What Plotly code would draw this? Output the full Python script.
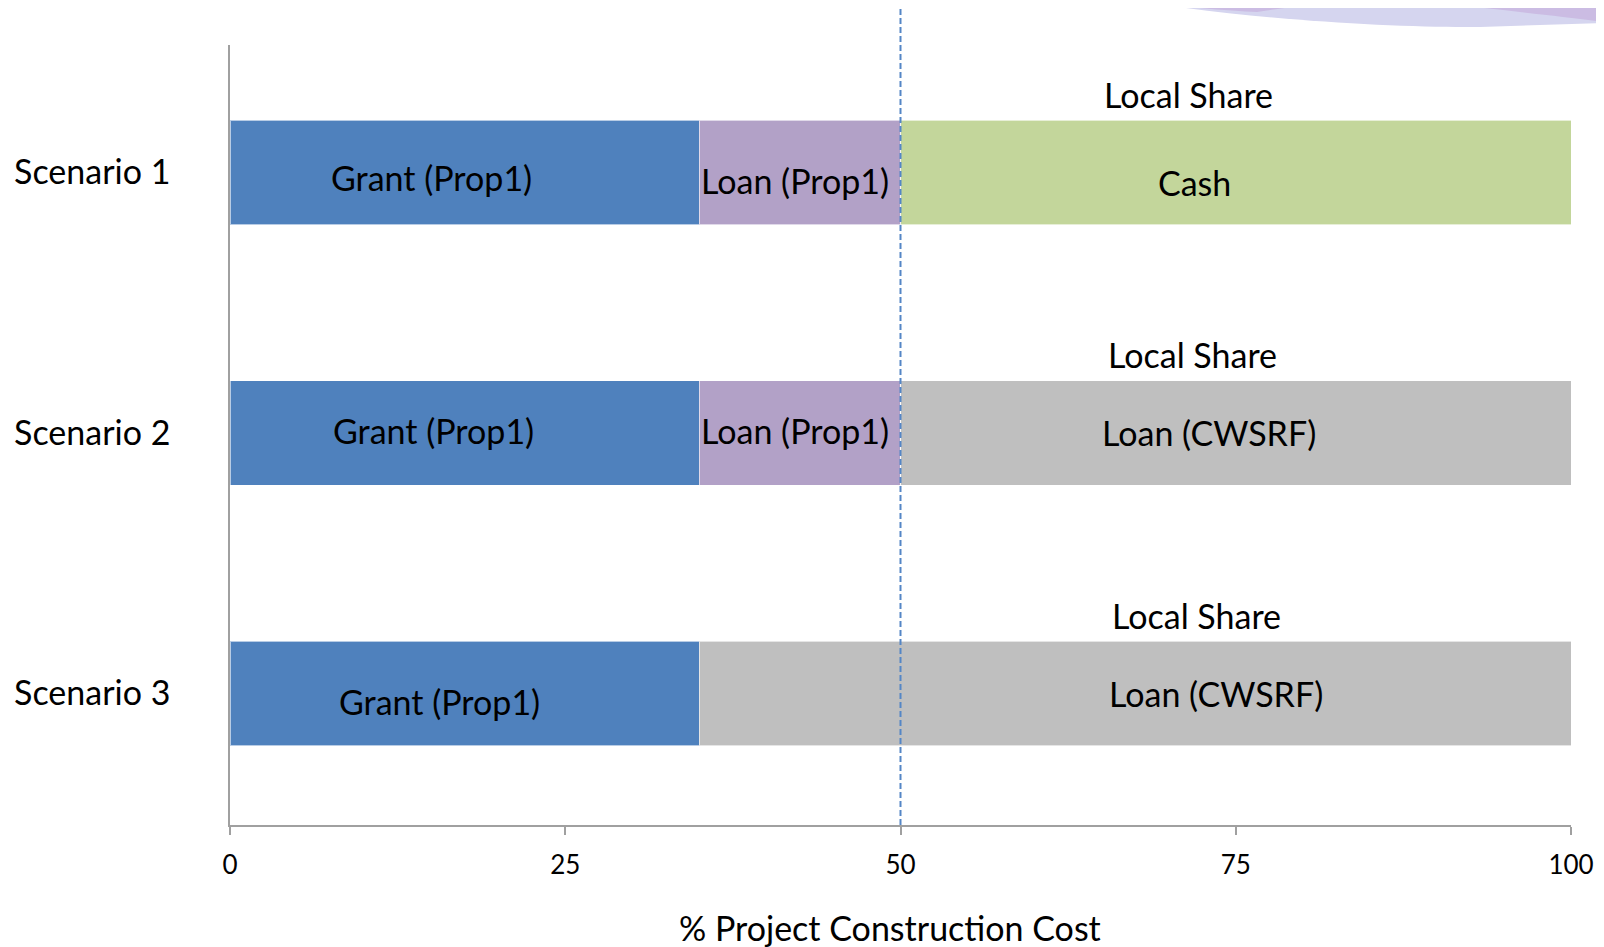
import plotly.graph_objects as go

# ---- data ----
scenarios = ["Scenario 1", "Scenario 2", "Scenario 3"]
grant_prop1 = [35, 35, 35]
loan_prop1 = [15, 15, 0]
cash = [50, 0, 0]
loan_cwsrf = [0, 50, 65]
x_ticks = [0, 25, 50, 75, 100]
threshold = 50

# page offset of the figure (default body margin)
OFF = 8
W, H = 1596, 939
L, T = 230 - OFF, 45 - OFF
R = W - (1571 - OFF)
B = H - (825 - OFF)
PW, PH = W - L - R, H - T - B

def px(x, y):
    """page pixel -> paper coords"""
    x -= OFF
    y -= OFF
    return (x - L) / PW, (H - B - y) / PH

FONT = "Lato"
BLACK = "#000000"
FS = 34

fig = go.Figure()
series = [
    ("Grant (Prop1)", grant_prop1, "#4F81BD"),
    ("Loan (Prop1)", loan_prop1, "#B2A1C7"),
    ("Cash", cash, "#C3D69B"),
    ("Loan (CWSRF)", loan_cwsrf, "#BFBFBF"),
]
for name, vals, col in series:
    fig.add_trace(go.Bar(
        y=scenarios, x=vals, name=name, orientation="h",
        marker=dict(color=col, line=dict(color="rgba(255,255,255,0.6)", width=1)),
        width=0.4, showlegend=False, hoverinfo="x+name",
    ))

# segment labels (placed near segment centres as in the original)
label_items = [
    # (scenario index, x-value, text, dy)
    (0, 15.0, "Grant (Prop1)", 0.02), (0, 42.1, "Loan (Prop1)", 0.03), (0, 71.9, "Cash", 0.04),
    (1, 15.2, "Grant (Prop1)", -0.01), (1, 42.1, "Loan (Prop1)", -0.01), (1, 73.0, "Loan (CWSRF)", 0.0),
    (2, 15.6, "Grant (Prop1)", 0.03), (2, 73.5, "Loan (CWSRF)", 0.0),
]
for si, xv, txt, dy in label_items:
    fig.add_annotation(x=xv, y=si + dy, xref="x", yref="y", text=txt, showarrow=False,
                       font=dict(family=FONT, size=FS, color=BLACK))
local_x = [71.5, 71.8, 72.1]
for si, xv in enumerate(local_x):
    fig.add_annotation(x=xv, y=si - 0.30, xref="x", yref="y", text="Local Share", showarrow=False,
                       font=dict(family=FONT, size=FS, color=BLACK))

# x-axis title (slightly left of centre, as in the original)
tx, ty = px(890, 927)
fig.add_annotation(x=tx, y=ty, xref="paper", yref="paper", xanchor="center", yanchor="middle",
                   text="% Project Construction Cost",
                   showarrow=False, font=dict(family=FONT, size=FS, color=BLACK))

# dashed 50% line
_, y_top = px(0, 8)
fig.add_shape(type="line", xref="x", yref="paper", x0=threshold, x1=threshold, y0=0, y1=y_top,
              line=dict(color="#5486C6", width=2, dash="6px,3px"))

# decorative swoosh top right
def path(pts_cmd):
    out = []
    for c, pts in pts_cmd:
        coords = " ".join("%.5f,%.5f" % px(a, b) for a, b in pts)
        out.append(c + " " + coords if coords else c)
    return " ".join(out)

swoosh = [
    ("#D5D5EF", [("M", [(1133, 0)]), ("C", [(1250, 20), (1400, 28), (1480, 27)]), ("L", [(1604, 23)]), ("L", [(1604, 0)]), ("Z", [])]),
    ("#CBBCE3", [("M", [(1133, 0)]), ("C", [(1180, 7), (1230, 11), (1257, 12)]), ("L", [(1340, 0)]), ("Z", [])]),
    ("#CBBCE3", [("M", [(1417, 0)]), ("C", [(1480, 8), (1560, 16), (1604, 22)]), ("L", [(1604, 0)]), ("Z", [])]),
]
for col, cmds in swoosh:
    fig.add_shape(type="path", xref="paper", yref="paper", path=path(cmds),
                  fillcolor=col, line=dict(width=0), layer="below")

fig.update_layout(
    width=W, height=H, barmode="stack", bargap=0.6,
    margin=dict(l=L, r=R, t=T, b=B),
    plot_bgcolor="white", paper_bgcolor="white",
    font=dict(family=FONT, color=BLACK),
    xaxis=dict(range=[0, 100], tickvals=x_ticks, showgrid=False, zeroline=False,
               showline=True, linecolor="#A0A0A0", linewidth=1.5,
               ticks="outside", ticklen=8, tickcolor="#A0A0A0", tickwidth=1.5,
               ticklabelstandoff=8, automargin=False,
               tickfont=dict(family=FONT, size=26, color=BLACK)),
    yaxis=dict(categoryorder="array", categoryarray=scenarios, range=[2.505, -0.489],
               showgrid=False, zeroline=False, showline=True, linecolor="#A0A0A0", linewidth=1.5,
               automargin=False,
               ticks="", tickfont=dict(family=FONT, size=FS, color=BLACK), ticklabelstandoff=51),
)

fig.write_html("out.html")
